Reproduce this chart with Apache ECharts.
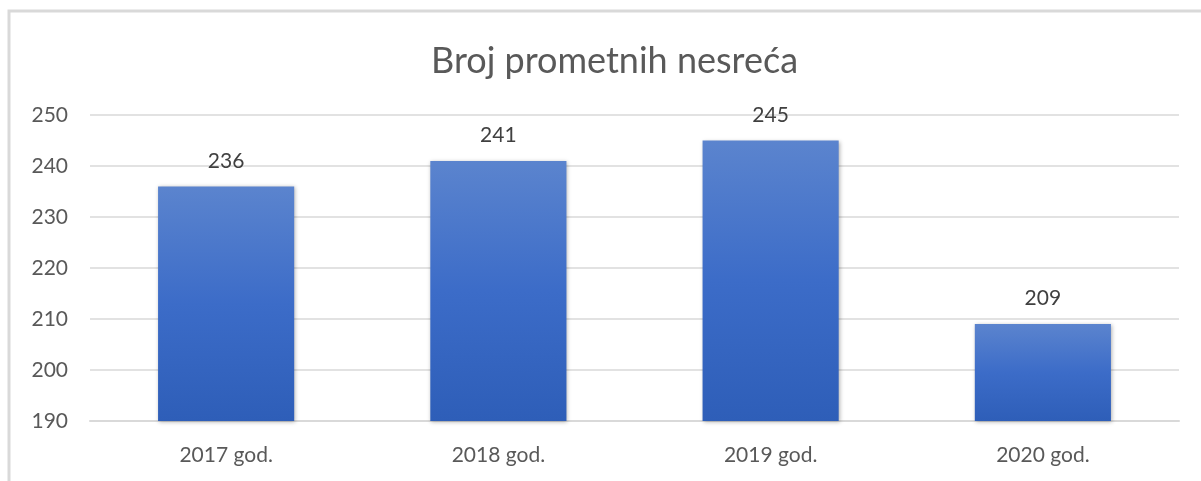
<!DOCTYPE html>
<html>
<head>
<meta charset="utf-8">
<script src="https://cdn.jsdelivr.net/npm/echarts@6/dist/echarts.min.js"></script>
<style>
  html, body { margin: 0; padding: 0; background: #fff; }
  #chart { width: 1201px; height: 481px; }
</style>
</head>
<body>
<div id="chart"></div>
<script>
// chart data
const categories = ['2017 god.', '2018 god.', '2019 god.', '2020 god.']
const accidents = [236, 241, 245, 209]
const yTicks = [190, 200, 210, 220, 230, 240, 250]

const chart = echarts.init(document.getElementById('chart'))
chart.setOption({
  animation: false,
  textStyle: { fontFamily: 'Lato, "Open Sans", sans-serif' },
  title: {
    text: 'Broj prometnih nesreća',
    left: 426,
    top: 38,
    textStyle: { fontSize: 36, fontWeight: 'normal', color: '#595959' }
  },
  graphic: [{
    type: 'rect',
    shape: { x: 9, y: 11, width: 1220, height: 500 },
    style: { fill: 'none', stroke: '#d9d9d9', lineWidth: 3 },
    silent: true
  }],
  grid: { left: 90, right: 22, top: 115, bottom: 60 },
  xAxis: {
    type: 'category',
    data: categories,
    axisLine: { lineStyle: { color: '#d9d9d9', width: 2 } },
    axisTick: { show: false },
    axisLabel: { color: '#595959', fontSize: 21, margin: 24 }
  },
  yAxis: {
    type: 'value',
    min: yTicks[0],
    max: yTicks[yTicks.length - 1],
    interval: 10,
    axisLine: { show: false },
    axisTick: { show: false },
    splitLine: { lineStyle: { color: '#d9d9d9', width: 1.5 } },
    axisLabel: { color: '#595959', fontSize: 21, margin: 22 }
  },
  series: [{
    type: 'bar',
    data: accidents,
    barWidth: '50%',
    itemStyle: {
      color: new echarts.graphic.LinearGradient(0, 0, 0, 1, [
        { offset: 0, color: '#5b84ce' },
        { offset: 0.5, color: '#3c6cc8' },
        { offset: 1, color: '#2e5eb8' }
      ]),
      shadowBlur: 4,
      shadowColor: 'rgba(0,0,0,0.3)',
      shadowOffsetX: 1,
      shadowOffsetY: 1
    },
    label: {
      show: true,
      position: 'top',
      distance: 15,
      color: '#404040',
      fontSize: 21
    }
  }]
})
</script>
</body>
</html>
